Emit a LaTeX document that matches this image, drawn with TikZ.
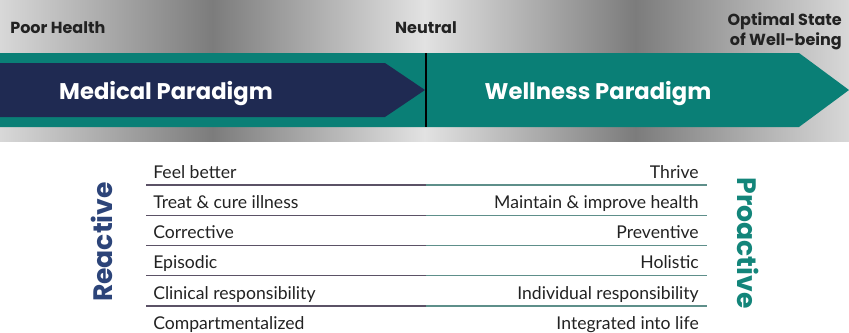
\documentclass[tikz,border=0pt]{standalone}
\usepackage{fontspec}
\setmainfont{Lato}
\newfontfamily\gothic{Poppins}
\usepackage{tikz}
\definecolor{cnavy}{HTML}{1F2A52}
\definecolor{cteal}{HTML}{0A7F76}
\definecolor{cblue}{HTML}{2C4479}
\definecolor{cgreen}{HTML}{13857A}
\definecolor{ctext}{HTML}{222222}
\definecolor{cruleL}{HTML}{5B5266}
\definecolor{cruleR}{HTML}{5E8F8A}
\definecolor{slight}{HTML}{D8D8D8}
\definecolor{smid}{HTML}{E2E2E2}
\definecolor{sdark}{HTML}{7C7C7C}
% silver band, two dark folds
\pgfdeclarehorizontalshading{silverband}{100bp}{color(0bp)=(slight); color(25bp)=(slight);
  color(37.5bp)=(sdark); color(50bp)=(smid); color(62.4bp)=(sdark);
  color(75bp)=(slight); color(100bp)=(slight)}

\begin{document}
\begin{tikzpicture}[x=0.75pt,y=-0.75pt,
  toplabel/.style={font=\gothic\bfseries\fontsize{12}{15}\selectfont,text=ctext,inner sep=0pt},
  paradigm/.style={font=\gothic\bfseries\fontsize{17}{20}\selectfont,text=white,inner sep=0pt},
  rowtext/.style={font=\fontsize{13.2}{15}\selectfont,text=ctext,inner sep=0pt},
  sidelabel/.style={font=\gothic\bfseries\fontsize{20}{24}\selectfont,inner sep=0pt}]
  \useasboundingbox (0,0) rectangle (849,332);
  \shade[shading=silverband] (0,0) rectangle (849,141);
  % the two arrows
  \fill[cteal] (0,53) -- (799,53) -- (849,90) -- (799,127) -- (0,127) -- cycle;
  \fill[cnavy] (0,63) -- (385,63) -- (425,90) -- (385,117) -- (0,117) -- cycle;
  \draw[line width=1.5pt] (426,53) -- (426,127);
  \node[toplabel,anchor=base west] (poor) at (10,33) {Poor Health};
  \node[toplabel,anchor=base] (neutral) at (426,33) {Neutral};
  \node[toplabel,anchor=east,align=right] (optimal) at (842,31) {Optimal State\\of Well-being};
  \node[paradigm,anchor=base] (medical) at (166,99.5) {Medical Paradigm};
  \node[paradigm,anchor=base] (wellness) at (598,99.5) {Wellness Paradigm};
  % rules between rows
  \foreach \i in {0,...,4} {
    \draw[cruleL,line width=0.8pt] (146,185+30.25*\i) -- (426,185+30.25*\i);
    \draw[cruleR,line width=0.8pt] (426,185+30.25*\i) -- (707,185+30.25*\i);
  }
  \foreach \l/\r [count=\i from 0] in {Feel better/Thrive,
      Treat \& cure illness/Maintain \& improve health,
      Corrective/Preventive, Episodic/Holistic,
      Clinical responsibility/Individual responsibility,
      Compartmentalized/Integrated into life} {
    \node[rowtext,anchor=base west] (left\i) at (153,178+30.25*\i) {\l};
    \node[rowtext,anchor=base east] (right\i) at (699,178+30.25*\i) {\r};
  }
  \node[sidelabel,text=cblue,rotate=90] (reactive) at (102,242) {Reactive};
  \node[sidelabel,text=cgreen,rotate=-90] (proactive) at (748,243) {Proactive};
\end{tikzpicture}
\end{document}
